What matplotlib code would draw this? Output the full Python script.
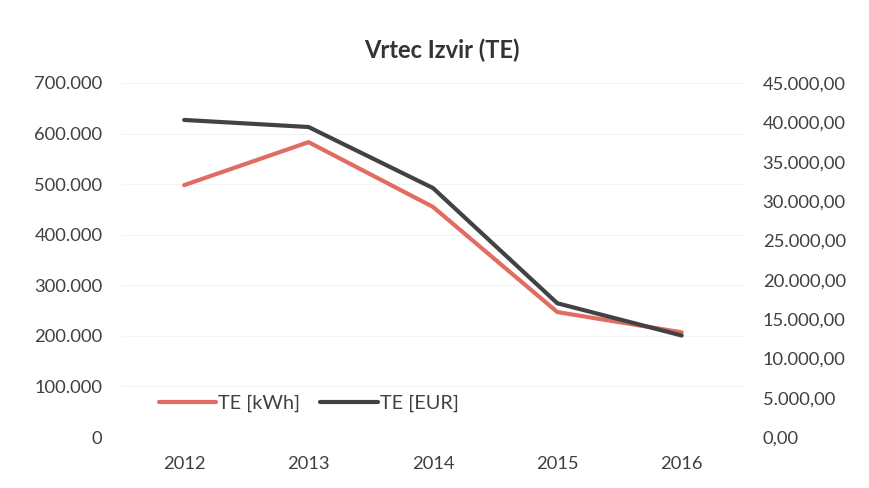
import matplotlib
matplotlib.use("Agg")
import matplotlib.pyplot as plt
from matplotlib.ticker import FuncFormatter

years = ["2012", "2013", "2014", "2015", "2016"]
te_kwh = [498000, 583000, 455000, 247000, 207000]
te_eur = [40300, 39400, 31650, 17000, 12900]

left_ticks = [0, 100000, 200000, 300000, 400000, 500000, 600000, 700000]
right_ticks = [0, 5000, 10000, 15000, 20000, 25000, 30000, 35000, 40000, 45000]

plt.rcParams['font.family'] = ['Lato', 'DejaVu Sans']

fig = plt.figure(figsize=(8.69, 4.88), dpi=100)
ax = fig.add_axes([0.1404, 0.1045, 0.7156, 0.7255])
ax2 = ax.twinx()

x = list(range(len(years)))
red = '#E06C62'
dark = '#424242'
l1, = ax.plot(x, te_kwh, color=red, lw=3.0, solid_capstyle='round', label='TE [kWh]', zorder=3)
l2, = ax2.plot(x, te_eur, color=dark, lw=3.0, solid_capstyle='round', label='TE [EUR]', zorder=4)

ax.set_xlim(-0.5, len(years) - 0.5)
ax.set_ylim(0, 700000)
ax2.set_ylim(0, 45000)
ax.set_xticks(x)
ax.set_xticklabels(years)
ax.set_yticks(left_ticks)
ax2.set_yticks(right_ticks)

def fmt_left(v, p):
    return f"{int(v):,}".replace(",", ".")

def fmt_right(v, p):
    s = f"{v:,.2f}"
    return s.replace(",", "X").replace(".", ",").replace("X", ".")

ax.yaxis.set_major_formatter(FuncFormatter(fmt_left))
ax2.yaxis.set_major_formatter(FuncFormatter(fmt_right))

for a in (ax, ax2):
    for s in a.spines.values():
        s.set_visible(False)
    a.tick_params(length=0, labelsize=13.2, colors='#404040')
ax.tick_params(axis='y', pad=14)
ax.tick_params(axis='x', pad=14)
ax2.tick_params(axis='y', pad=13.5)
ax.grid(axis='y', color='#f3f3f3', lw=0.8)
ax.set_axisbelow(True)

fig.text(0.508, 0.897, "Vrtec Izvir (TE)", ha='center', va='center', fontsize=17,
         fontweight='bold', color='#333333')

leg = ax.legend(handles=[l1, l2], loc='lower left', bbox_to_anchor=(0.03, 0.02),
                ncol=2, frameon=False, fontsize=14.3, handlelength=2.9,
                handletextpad=0.1, columnspacing=1.0, labelcolor='#404040')

fig.savefig("out.png", dpi=100, facecolor='white')
